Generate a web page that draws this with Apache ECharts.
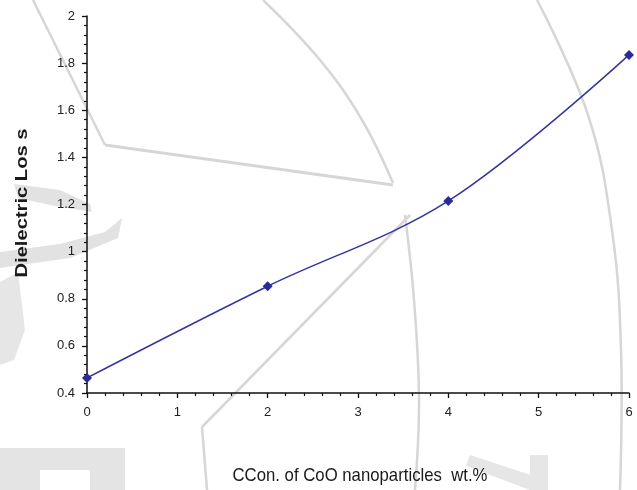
<!DOCTYPE html>
<html>
<head>
<meta charset="utf-8">
<script src="https://cdn.jsdelivr.net/npm/echarts@6/dist/echarts.min.js"></script>
<style>
  html, body { margin: 0; padding: 0; background: #ffffff; }
  #chart { width: 637px; height: 490px; }
</style>
</head>
<body>
<div id="chart"></div>
<script>
// CoO nanoparticle concentration (wt.%) and measured dielectric loss
const concentration = [0, 2, 4, 6];
const dielectricLoss = [0.464, 0.853, 1.215, 1.835];

const xTicks = [0, 1, 2, 3, 4, 5, 6];
const yTicks = [0.4, 0.6, 0.8, 1, 1.2, 1.4, 1.6, 1.8, 2];

const xTitle = 'CCon. of CoO nanoparticles  wt.%';
const yTitle = 'Dielectric Los s';

const FONT = '"Liberation Sans", Arial, sans-serif';
const faint = '#d6d6d6';

// horizontal stretch factor so a title spans the wanted width
function fitScale(text, font, width) {
  const ctx = document.createElement('canvas').getContext('2d');
  ctx.font = font;
  return width / ctx.measureText(text).width;
}

// faint background line-art behind the plot
function stroke(points, width) {
  return {
    type: 'polyline', silent: true, z: -10,
    shape: { points: points, smooth: 0.4 },
    style: { stroke: faint, lineWidth: width || 2.5, fill: null }
  };
}
function blob(points, color) {
  return {
    type: 'polygon', silent: true, z: -10,
    shape: { points: points },
    style: { fill: color || '#e2e2e2' }
  };
}

const xTitleFont = '19px "Liberation Sans", Arial, sans-serif';
const yTitleFont = 'bold 16px "Liberation Sans", Arial, sans-serif';

const chart = echarts.init(document.getElementById('chart'), null, { renderer: 'canvas' });

chart.setOption({
  animation: false,
  backgroundColor: '#ffffff',
  grid: { left: 87, right: 8, top: 16, bottom: 97, containLabel: false },
  graphic: [
    stroke([[33, 0], [105, 145]], 2.5),
    { type: 'polyline', silent: true, z: -10,
      shape: { points: [[105, 145], [393, 185]] },
      style: { stroke: faint, lineWidth: 3, fill: null } },
    stroke([[263, 0], [320, 60], [362, 120], [393, 183]], 2.5),
    stroke([[405, 215], [414, 300], [419, 400], [415, 490]], 2.5),
    stroke([[537, 0], [588, 115], [612, 230], [621, 350], [620, 490]], 2.5),
    { type: 'polyline', silent: true, z: -10,
      shape: { points: [[202, 427], [410, 215]] },
      style: { stroke: faint, lineWidth: 2.5, fill: null } },
    stroke([[202, 427], [207, 490]], 2.5),
    // curved bands at the left edge
    blob([[14, 184], [60, 190], [90, 204], [92, 212], [55, 206], [18, 198]]),
    blob([[0, 252], [60, 244], [105, 232], [122, 218], [118, 238], [70, 258], [0, 268]]),
    blob([[0, 282], [18, 272], [25, 330], [14, 360], [0, 365]], '#e6e6e6'),
    // block letters along the bottom edge
    blob([[0, 448], [125, 448], [125, 490], [90, 490], [90, 470], [40, 470], [40, 490], [0, 490]], '#e4e4e4'),
    blob([[470, 455], [540, 478], [530, 490], [466, 466]], '#e6e6e6'),
    blob([[530, 455], [548, 455], [548, 490], [530, 490]], '#e6e6e6'),
    // axis titles (condensed by horizontal scaling)
    {
      type: 'text', silent: true, z: 10,
      x: 360, y: 476,
      scaleX: fitScale(xTitle, xTitleFont, 255),
      style: {
        text: xTitle, font: xTitleFont, fill: '#1a1a1a',
        align: 'center', verticalAlign: 'middle'
      }
    },
    {
      type: 'text', silent: true, z: 10,
      x: 23, y: 203,
      rotation: Math.PI / 2,
      scaleX: fitScale(yTitle, yTitleFont, 149),
      style: {
        text: yTitle, font: yTitleFont, fill: '#1a1a1a',
        align: 'center', verticalAlign: 'middle'
      }
    }
  ],
  xAxis: {
    type: 'value',
    min: 0, max: 6, interval: 1,
    axisLine: { onZero: false, lineStyle: { color: '#111', width: 1.5 } },
    axisTick: { show: true, length: 5, lineStyle: { color: '#111', width: 1.3 } },
    minorTick: { show: true, splitNumber: 5, length: 3, lineStyle: { color: '#111', width: 1.2 } },
    splitLine: { show: false },
    axisLabel: {
      margin: 13, fontFamily: FONT, fontSize: 13, color: '#222',
      formatter: v => (xTicks.indexOf(v) >= 0 ? String(v) : '')
    }
  },
  yAxis: {
    type: 'value',
    min: 0.4, max: 2, interval: 0.2,
    axisLine: { lineStyle: { color: '#111', width: 1.5 } },
    axisTick: { show: true, length: 5, lineStyle: { color: '#111', width: 1.3 } },
    minorTick: { show: true, splitNumber: 5, length: 3, lineStyle: { color: '#111', width: 1.2 } },
    splitLine: { show: false },
    axisLabel: {
      margin: 12, fontFamily: FONT, fontSize: 13, color: '#222',
      formatter: v => {
        const r = Math.round(v * 10) / 10;
        return yTicks.indexOf(r) >= 0 ? String(r) : '';
      }
    }
  },
  series: [{
    type: 'line',
    data: concentration.map((c, i) => [c, dielectricLoss[i]]),
    smooth: 0.35,
    symbol: 'diamond',
    symbolSize: 10,
    clip: false,
    itemStyle: { color: '#2b2b97' },
    lineStyle: { color: '#3434a0', width: 1.5 }
  }]
});
</script>
</body>
</html>
